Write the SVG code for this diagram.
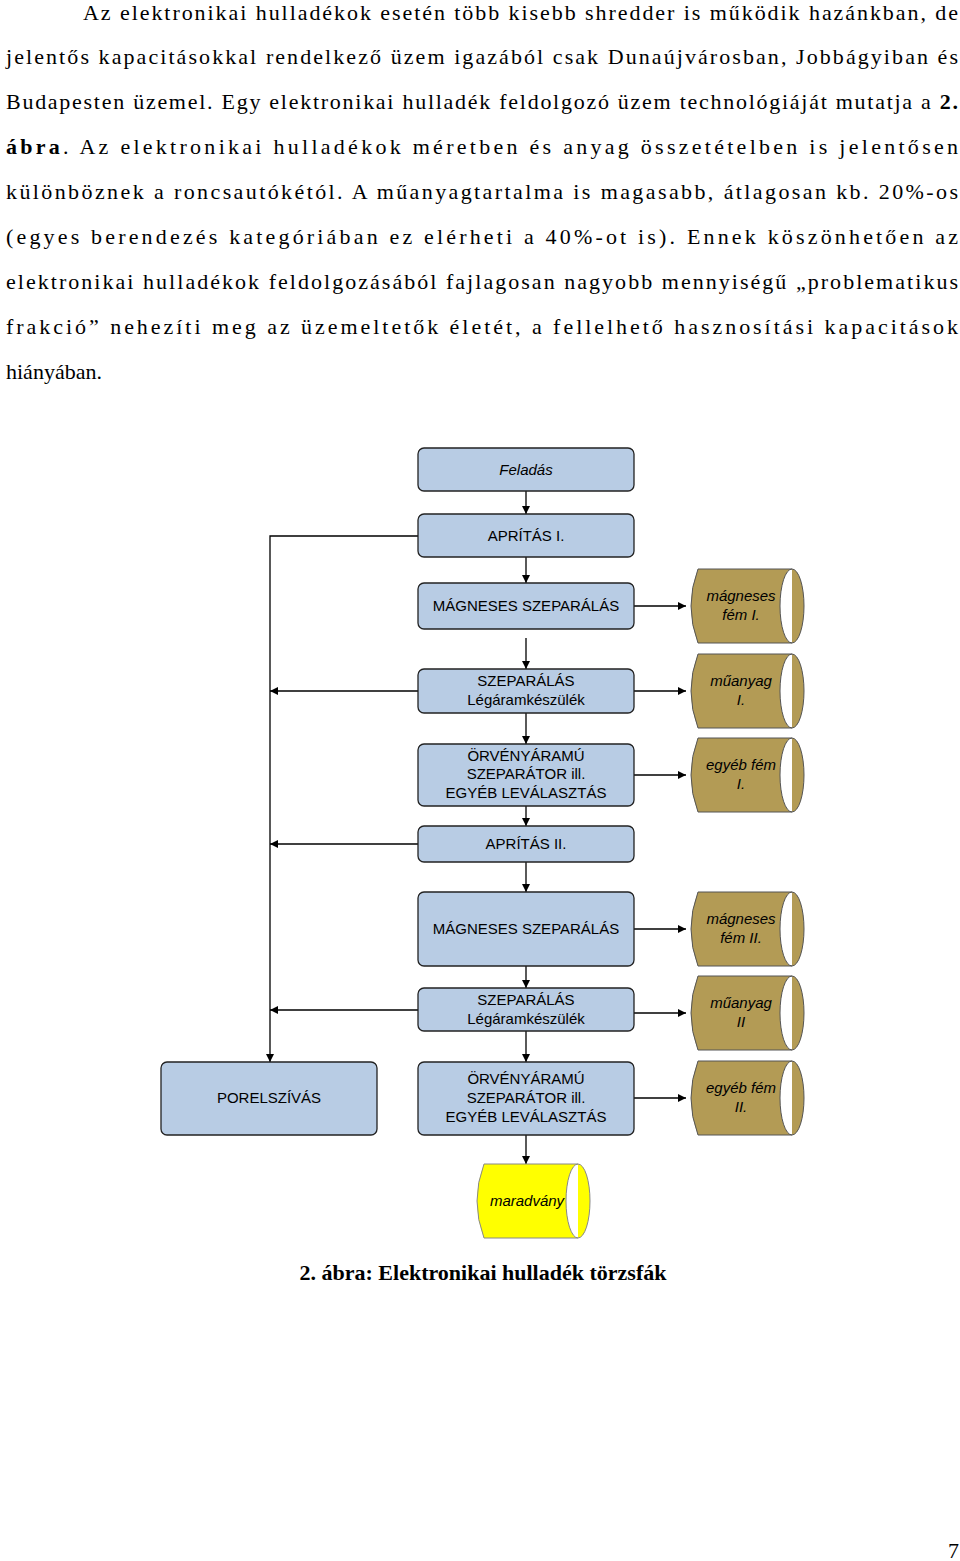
<svg xmlns="http://www.w3.org/2000/svg" width="960" height="1561" viewBox="0 0 960 1561">
<style>
.p{font-family:"Liberation Serif",serif;font-size:22px;fill:#000}
.b{fill:#b8cce4;stroke:#222;stroke-width:1.3}
.t{font-family:"Liberation Sans",Arial,sans-serif;font-size:15px;fill:#000;text-anchor:middle}
.i{font-style:italic}
.d{fill:#b39b55;stroke:#555;stroke-width:1}
.y{fill:#ffff00;stroke:#888;stroke-width:1}
.c{stroke:#000;stroke-width:1.3;fill:none}
</style>
<defs>
<marker id="a" viewBox="0 0 10 10" refX="10" refY="5" markerWidth="8" markerHeight="8" markerUnits="userSpaceOnUse" orient="auto"><path d="M0,0L10,5L0,10z" fill="#000"/></marker>
<path id="drum" d="M12,0 L106,0 A12,37 0 0 1 106,74 L12,74 Q-2,37 12,0 Z M106,0 A12,37 0 0 0 106,74"/>
</defs>
<g id="text">
<text class="p" x="83" y="20" textLength="875" lengthAdjust="spacing">Az elektronikai hulladékok esetén több kisebb shredder is működik hazánkban, de</text>
<text class="p" x="6" y="64" textLength="952" lengthAdjust="spacing">jelentős kapacitásokkal rendelkező üzem igazából csak Dunaújvárosban, Jobbágyiban és</text>
<text class="p" x="6" y="109" textLength="952" lengthAdjust="spacing">Budapesten üzemel. Egy elektronikai hulladék feldolgozó üzem technológiáját mutatja a <tspan font-weight="bold">2.</tspan></text>
<text class="p" x="6" y="154" textLength="952" lengthAdjust="spacing"><tspan font-weight="bold">ábra</tspan>. Az elektronikai hulladékok méretben és anyag összetételben is jelentősen</text>
<text class="p" x="6" y="199" textLength="952" lengthAdjust="spacing">különböznek a roncsautókétól. A műanyagtartalma is magasabb, átlagosan kb. 20%-os</text>
<text class="p" x="6" y="244" textLength="952" lengthAdjust="spacing">(egyes berendezés kategóriában ez elérheti a 40%-ot is). Ennek köszönhetően az</text>
<text class="p" x="6" y="289" textLength="952" lengthAdjust="spacing">elektronikai hulladékok feldolgozásából fajlagosan nagyobb mennyiségű „problematikus</text>
<text class="p" x="6" y="334" textLength="952" lengthAdjust="spacing">frakció” nehezíti meg az üzemeltetők életét, a fellelhető hasznosítási kapacitások</text>
<text class="p" x="6" y="379">hiányában.</text>
<text class="p" x="483" y="1280" text-anchor="middle" font-weight="bold">2. ábra: Elektronikai hulladék törzsfák</text>
<text class="p" x="948" y="1558" font-size="20">7</text>
</g>
<g id="connectors">
<path class="c" d="M526,491V514" marker-end="url(#a)"/>
<path class="c" d="M526,557V583" marker-end="url(#a)"/>
<path class="c" d="M526,638V669" marker-end="url(#a)"/>
<path class="c" d="M526,713V744" marker-end="url(#a)"/>
<path class="c" d="M526,806V826" marker-end="url(#a)"/>
<path class="c" d="M526,862V892" marker-end="url(#a)"/>
<path class="c" d="M526,966V988" marker-end="url(#a)"/>
<path class="c" d="M526,1031V1062" marker-end="url(#a)"/>
<path class="c" d="M526,1135V1164" marker-end="url(#a)"/>
<path class="c" d="M418,536H270V1062" marker-end="url(#a)"/>
<path class="c" d="M418,691H270" marker-end="url(#a)"/>
<path class="c" d="M418,844H270" marker-end="url(#a)"/>
<path class="c" d="M418,1010H270" marker-end="url(#a)"/>
<path class="c" d="M634,606H686" marker-end="url(#a)"/>
<path class="c" d="M634,691H686" marker-end="url(#a)"/>
<path class="c" d="M634,775H686" marker-end="url(#a)"/>
<path class="c" d="M634,929H686" marker-end="url(#a)"/>
<path class="c" d="M634,1013H686" marker-end="url(#a)"/>
<path class="c" d="M634,1098H686" marker-end="url(#a)"/>
</g>
<g id="feladas"><rect class="b" x="418" y="448" width="216" height="43" rx="6"/><text class="t i" x="526" y="475" font-size="16">Feladás</text></g>
<g id="apritas1"><rect class="b" x="418" y="514" width="216" height="43" rx="6"/><text class="t" x="526" y="541">APRÍTÁS I.</text></g>
<g id="magn1"><rect class="b" x="418" y="583" width="216" height="46" rx="6"/><text class="t" x="526" y="611">MÁGNESES SZEPARÁLÁS</text></g>
<g id="szep1"><rect class="b" x="418" y="669" width="216" height="44" rx="6"/><text class="t" x="526" y="686">SZEPARÁLÁS</text><text class="t" x="526" y="705">Légáramkészülék</text></g>
<g id="orveny1"><rect class="b" x="418" y="744" width="216" height="62" rx="6"/><text class="t" x="526" y="761">ÖRVÉNYÁRAMÚ</text><text class="t" x="526" y="779">SZEPARÁTOR ill.</text><text class="t" x="526" y="798">EGYÉB LEVÁLASZTÁS</text></g>
<g id="apritas2"><rect class="b" x="418" y="826" width="216" height="36" rx="6"/><text class="t" x="526" y="849">APRÍTÁS II.</text></g>
<g id="magn2"><rect class="b" x="418" y="892" width="216" height="74" rx="6"/><text class="t" x="526" y="934">MÁGNESES SZEPARÁLÁS</text></g>
<g id="szep2"><rect class="b" x="418" y="988" width="216" height="43" rx="6"/><text class="t" x="526" y="1005">SZEPARÁLÁS</text><text class="t" x="526" y="1024">Légáramkészülék</text></g>
<g id="orveny2"><rect class="b" x="418" y="1062" width="216" height="73" rx="6"/><text class="t" x="526" y="1084">ÖRVÉNYÁRAMÚ</text><text class="t" x="526" y="1103">SZEPARÁTOR ill.</text><text class="t" x="526" y="1122">EGYÉB LEVÁLASZTÁS</text></g>
<g id="porelszivas"><rect class="b" x="161" y="1062" width="216" height="73" rx="6"/><text class="t" x="269" y="1103">PORELSZÍVÁS</text></g>
<g id="d1" transform="translate(686,569)"><use href="#drum" class="d"/><text class="t i" x="55" y="32" font-size="14">mágneses</text><text class="t i" x="55" y="51" font-size="14">fém I.</text></g>
<g id="d2" transform="translate(686,654)"><use href="#drum" class="d"/><text class="t i" x="55" y="32" font-size="14">műanyag</text><text class="t i" x="55" y="51" font-size="14">I.</text></g>
<g id="d3" transform="translate(686,738)"><use href="#drum" class="d"/><text class="t i" x="55" y="32" font-size="14">egyéb fém</text><text class="t i" x="55" y="51" font-size="14">I.</text></g>
<g id="d4" transform="translate(686,892)"><use href="#drum" class="d"/><text class="t i" x="55" y="32" font-size="14">mágneses</text><text class="t i" x="55" y="51" font-size="14">fém II.</text></g>
<g id="d5" transform="translate(686,976)"><use href="#drum" class="d"/><text class="t i" x="55" y="32" font-size="14">műanyag</text><text class="t i" x="55" y="51" font-size="14">II</text></g>
<g id="d6" transform="translate(686,1061)"><use href="#drum" class="d"/><text class="t i" x="55" y="32" font-size="14">egyéb fém</text><text class="t i" x="55" y="51" font-size="14">II.</text></g>
<g id="maradvany" transform="translate(472,1164)"><path class="y" d="M12,0 L106,0 A12,37 0 0 1 106,74 L12,74 Q-2,37 12,0 Z M106,0 A12,37 0 0 0 106,74"/><text class="t i" x="55" y="42" font-size="14">maradvány</text></g>
</svg>
